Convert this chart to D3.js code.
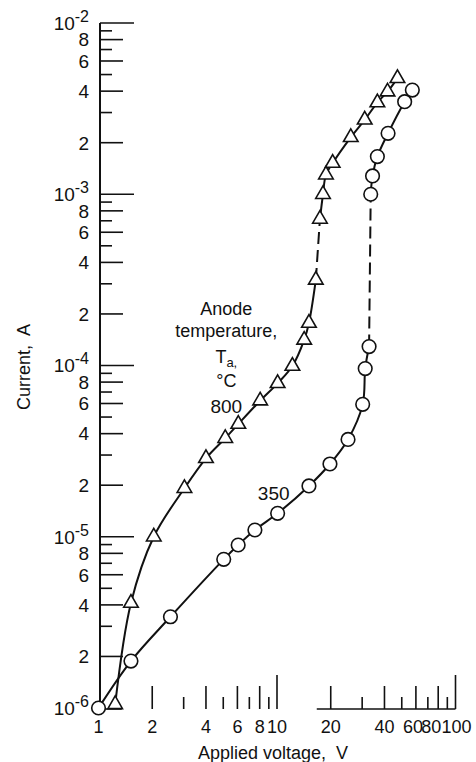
<!DOCTYPE html>
<html>
<head>
<meta charset="utf-8">
<script src="https://cdn.jsdelivr.net/npm/d3@7"></script>
<style>
  html, body { margin: 0; padding: 0; background: #fff; }
  svg { display: block; }
  text { font-family: "Liberation Sans", Arial, sans-serif; fill: #111; }
  .num { font-family: "Liberation Sans Narrow", "Liberation Sans", Arial, sans-serif; }
</style>
</head>
<body>
<svg id="chart" width="476" height="762"></svg>
<script>
// Anode temperature 800 °C (triangles), before and after the current jump
const voltage800Low  = [1.24, 1.52, 2.04, 3.03, 4.0, 5.13, 6.07, 8.05, 10.08, 12.2, 14.2, 15.1, 16.5];
const current800Low  = [1.05e-6, 4.1e-6, 1.0e-5, 1.92e-5, 2.87e-5, 3.76e-5, 4.55e-5, 6.23e-5, 7.87e-5, 9.93e-5, 1.41e-4, 1.77e-4, 3.16e-4];
const voltage800High = [17.4, 18.1, 18.8, 20.5, 25.9, 31.0, 36.5, 41.6, 47.3];
const current800High = [7.17e-4, 1.0e-3, 1.3e-3, 1.52e-3, 2.15e-3, 2.72e-3, 3.43e-3, 3.97e-3, 4.75e-3];

// Anode temperature 350 °C (circles), before and after the current jump
const voltage350Low  = [1.0, 1.52, 2.53, 5.03, 6.06, 7.52, 10.08, 15.1, 19.8, 25.0, 30.2, 31.2, 32.8];
const current350Low  = [1.0e-6, 1.88e-6, 3.41e-6, 7.38e-6, 8.95e-6, 1.095e-5, 1.37e-5, 1.98e-5, 2.66e-5, 3.7e-5, 5.93e-5, 9.6e-5, 1.29e-4];
const voltage350High = [33.5, 34.3, 36.5, 41.9, 51.9, 57.3];
const current350High = [1.0e-3, 1.28e-3, 1.66e-3, 2.27e-3, 3.47e-3, 4.06e-3];

// Axis labelling
const xTickLabels = [1, 2, 4, 6, 8, 10, 20, 40, 60, 80, 100];
const yDecadeExponents = [-2, -3, -4, -5, -6];
const yMantissaLabels = [8, 6, 4, 2];
const xTitle = "Applied voltage,  V";
const yTitle = "Current,  A";
const legendLines = ["Anode", "temperature,"];
const seriesNames = ["800", "350"];

const svg = d3.select("#chart");
const ink = "#111";

const x = d3.scaleLog().domain([1, 100]).range([98.5, 455.5]);
const y = d3.scaleLog().domain([1e-6, 1e-2]).range([708, 23]);

const axisX = x(1) + 1.5;
const baseY = y(1e-6) + 1;

// tick length by mantissa: decade = long, even = medium, odd = short
function tickLen(v) {
  const m = Math.round(v / Math.pow(10, Math.floor(Math.log10(v) + 1e-9)));
  return m === 1 ? 34 : (m % 2 === 0 ? 23 : 12);
}

// Vertical axis line and inward ticks
svg.append("line")
  .attr("x1", axisX).attr("x2", axisX)
  .attr("y1", y(1e-2)).attr("y2", y(1e-6))
  .attr("stroke", ink).attr("stroke-width", 2);

svg.append("g").selectAll("line")
  .data(y.ticks().filter(v => v > 1.01e-6))
  .join("line")
  .attr("x1", axisX).attr("x2", v => axisX + tickLen(v))
  .attr("y1", v => y(v)).attr("y2", v => y(v))
  .attr("stroke", ink).attr("stroke-width", 1.6);

// Horizontal axis: baseline pieces and upward ticks
const baseSegments = [[1, 1.35], [16.7, 100]];
svg.append("g").selectAll("line")
  .data(baseSegments)
  .join("line")
  .attr("x1", d => x(d[0])).attr("x2", d => x(d[1]))
  .attr("y1", baseY).attr("y2", baseY)
  .attr("stroke", ink).attr("stroke-width", 1.6);

svg.append("g").selectAll("line")
  .data(x.ticks().filter(v => v > 1))
  .join("line")
  .attr("x1", v => x(v)).attr("x2", v => x(v))
  .attr("y1", baseY).attr("y2", v => baseY - tickLen(v))
  .attr("stroke", ink).attr("stroke-width", 1.6);

// Y tick labels
const yLab = svg.append("g").attr("class", "num").attr("font-size", 19).attr("text-anchor", "end");
yDecadeExponents.forEach(e => {
  const t = yLab.append("text")
    .attr("x", 89).attr("y", y(Math.pow(10, e))).attr("dy", "0.36em");
  t.append("tspan").text("10");
  t.append("tspan").attr("font-size", 16).attr("dy", -8).text("-" + Math.abs(e));
});
[-3, -4, -5, -6].forEach(e => {
  yMantissaLabels.forEach(m => {
    yLab.append("text")
      .attr("x", 89).attr("y", y(m * Math.pow(10, e))).attr("dy", "0.36em")
      .text(m);
  });
});

// X tick labels (the crowded 60/80/100 group is eased apart)
const xNudge = { 60: -3, 80: -7, 100: 1 };
svg.append("g").attr("class", "num").attr("font-size", 18).attr("text-anchor", "middle")
  .selectAll("text")
  .data(xTickLabels)
  .join("text")
  .attr("x", v => x(v) + (xNudge[v] || 0))
  .attr("y", 733)
  .text(v => v);

// Axis titles
svg.append("text")
  .attr("x", 273).attr("y", 759)
  .attr("font-size", 18).attr("text-anchor", "middle")
  .style("white-space", "pre")
  .text(xTitle);

svg.append("text")
  .attr("transform", "translate(30,367) rotate(-90)")
  .attr("font-size", 18).attr("text-anchor", "middle")
  .style("white-space", "pre")
  .text(yTitle);

// Curves
const line = d3.line()
  .x(d => x(d[0])).y(d => y(d[1]))
  .curve(d3.curveCatmullRom.alpha(0.5));

const zip = (a, b) => a.map((v, i) => [v, b[i]]);
const s800L = zip(voltage800Low, current800Low);
const s800H = zip(voltage800High, current800High);
const s350L = zip(voltage350Low, current350Low);
const s350H = zip(voltage350High, current350High);

const curves = svg.append("g").attr("fill", "none").attr("stroke", ink).attr("stroke-width", 2);
[s800L, s800H, s350L, s350H].forEach(s => curves.append("path").attr("d", line(s)));
[[s800L, s800H], [s350L, s350H]].forEach(([lo, hi]) => {
  curves.append("path")
    .attr("d", d3.line().x(d => x(d[0])).y(d => y(d[1]))([lo[lo.length - 1], hi[0]]))
    .attr("stroke-dasharray", "12 6");
});

// Markers
const tri = d3.symbol(d3.symbolTriangle, 92);
svg.append("g").selectAll("path")
  .data(s800L.concat(s800H))
  .join("path")
  .attr("transform", d => `translate(${x(d[0])},${y(d[1])})`)
  .attr("d", tri)
  .attr("fill", "#fff").attr("stroke", ink).attr("stroke-width", 1.6);

svg.append("g").selectAll("circle")
  .data(s350L.concat(s350H))
  .join("circle")
  .attr("cx", d => x(d[0])).attr("cy", d => y(d[1]))
  .attr("r", 6.8)
  .attr("fill", "#fff").attr("stroke", ink).attr("stroke-width", 1.6);

// Legend annotation: anode temperature
const legend = svg.append("g").attr("font-size", 18).attr("text-anchor", "middle");
const legX = x(5.2);
legend.append("text").attr("x", legX).attr("y", y(1.97e-4)).text(legendLines[0]);
legend.append("text").attr("x", legX).attr("y", y(1.47e-4)).text(legendLines[1]);
const ta = legend.append("text").attr("x", legX).attr("y", y(1.03e-4));
ta.append("tspan").text("T");
ta.append("tspan").attr("font-size", 13).attr("dy", 4).text("a,");
legend.append("text").attr("x", legX).attr("y", y(7.5e-5)).text("°C");

// Series labels
svg.append("text").attr("class", "num").attr("font-size", 19).attr("text-anchor", "middle")
  .attr("x", x(5.2)).attr("y", y(5.28e-5)).text(seriesNames[0]);
svg.append("text").attr("class", "num").attr("font-size", 19).attr("text-anchor", "middle")
  .attr("x", x(9.58)).attr("y", y(1.64e-5)).text(seriesNames[1]);
</script>
</body>
</html>
